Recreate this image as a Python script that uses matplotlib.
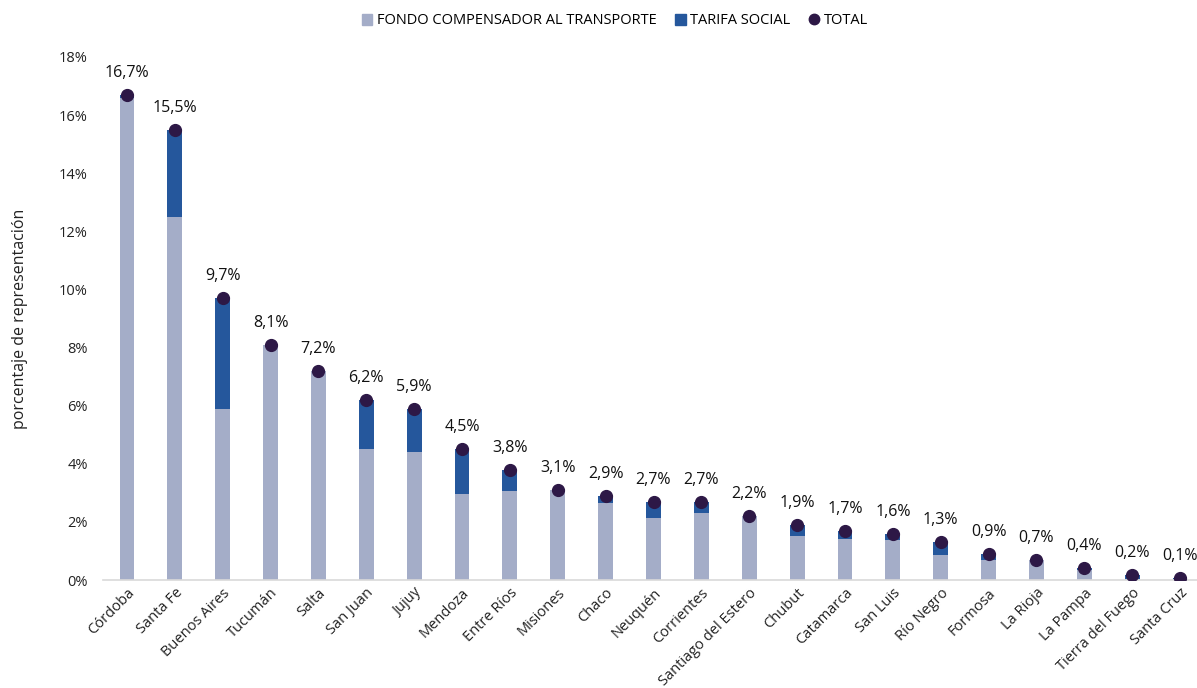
import matplotlib.pyplot as plt
import numpy as np
from matplotlib.patches import Patch
from matplotlib.lines import Line2D

plt.rcParams['font.family'] = ['Open Sans', 'DejaVu Sans']

provincias = ['Córdoba', 'Santa Fe', 'Buenos Aires', 'Tucumán', 'Salta', 'San Juan', 'Jujuy',
              'Mendoza', 'Entre Ríos', 'Misiones', 'Chaco', 'Neuquén', 'Corrientes',
              'Santiago del Estero', 'Chubut', 'Catamarca', 'San Luis', 'Río Negro',
              'Formosa', 'La Rioja', 'La Pampa', 'Tierra del Fuego', 'Santa Cruz']
fondo = [16.6, 12.5, 5.9, 8.1, 7.2, 4.5, 4.4, 2.95, 3.05, 3.1, 2.65, 2.15, 2.3,
         2.2, 1.5, 1.4, 1.38, 0.85, 0.7, 0.7, 0.35, 0.05, 0.03]
total = [16.7, 15.5, 9.7, 8.1, 7.2, 6.2, 5.9, 4.5, 3.8, 3.1, 2.9, 2.7, 2.7,
         2.2, 1.9, 1.7, 1.6, 1.3, 0.9, 0.7, 0.4, 0.16, 0.08]
etiquetas = ['16,7%', '15,5%', '9,7%', '8,1%', '7,2%', '6,2%', '5,9%', '4,5%', '3,8%', '3,1%',
             '2,9%', '2,7%', '2,7%', '2,2%', '1,9%', '1,7%', '1,6%', '1,3%', '0,9%', '0,7%',
             '0,4%', '0,2%', '0,1%']
tarifa = [t - f for t, f in zip(total, fondo)]

c_fondo = '#A4ADC8'
c_tarifa = '#25579C'
c_total = '#2D1846'

fig = plt.figure(figsize=(11.97, 6.88), dpi=100)
ax = fig.add_axes([103/1197, 108/688, 1101/1197, 523/688])

x = np.arange(len(provincias))
ax.bar(x, fondo, width=0.31, color=c_fondo, zorder=2)
ax.bar(x, tarifa, width=0.31, bottom=fondo, color=c_tarifa, zorder=2)
ax.plot(x, total, 'o', color=c_total, markersize=8.5, zorder=3)

for xi, t, lab in zip(x, total, etiquetas):
    ax.annotate(lab, (xi, t), xytext=(0, 10), textcoords='offset points',
                ha='center', va='bottom', fontsize=11.5, color='#111111')

ax.set_xlim(-0.5, len(provincias) - 0.5)
ax.set_ylim(0, 18)
ax.set_yticks(np.arange(0, 19, 2))
ax.set_yticklabels([f'{v}%' for v in range(0, 19, 2)], fontsize=10.5, color='#222222')
ax.set_xticks(x)
ax.set_xticklabels(provincias, rotation=45, ha='right', rotation_mode='anchor',
                   fontsize=10.5, color='#222222')
ax.tick_params(axis='both', length=0)
ax.tick_params(axis='y', pad=11)
ax.tick_params(axis='x', pad=4)
for s in ['top', 'right', 'left']:
    ax.spines[s].set_visible(False)
ax.spines['bottom'].set_color('#D9D9D9')
ax.spines['bottom'].set_linewidth(1.2)

ax.set_ylabel('porcentaje de representación', fontsize=11.5, color='#222222')
ax.yaxis.set_label_coords(-0.068, 0.5)

handles = [Patch(color=c_fondo, label='FONDO COMPENSADOR AL TRANSPORTE'),
           Patch(color=c_tarifa, label='TARIFA SOCIAL'),
           Line2D([], [], marker='o', linestyle='', color=c_total, markersize=7.5, label='TOTAL')]
fig.legend(handles=handles, loc='center', bbox_to_anchor=(615/1197, 1 - 21/688), ncol=3,
           frameon=False, fontsize=10.5, handlelength=0.7, handleheight=0.7,
           handletextpad=0.3, columnspacing=1.3)

fig.savefig('out.png', dpi=100)
